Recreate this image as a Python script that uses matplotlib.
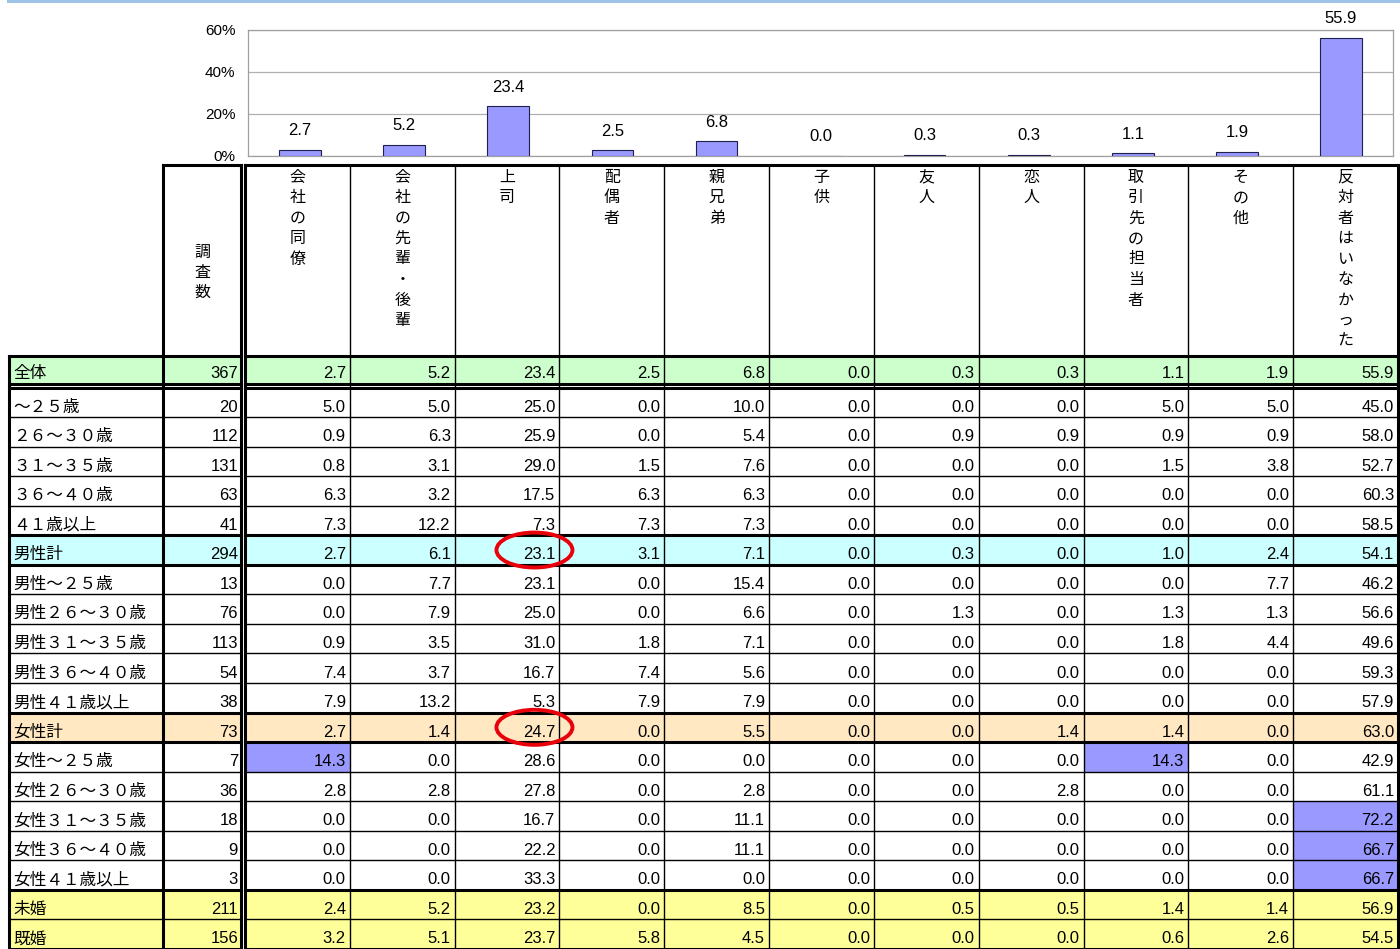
import matplotlib
matplotlib.use("Agg")
import matplotlib.pyplot as plt
from matplotlib.patches import Rectangle, Ellipse
from matplotlib.ticker import FuncFormatter

# ---------------- data ----------------
categories = ['会社の同僚', '会社の先輩・後輩', '上司', '配偶者', '親兄弟', '子供',
              '友人', '恋人', '取引先の担当者', 'その他', '反対者はいなかった']
count_header = '調査数'
row_labels = ['全体', '～２５歳', '２６～３０歳', '３１～３５歳', '３６～４０歳', '４１歳以上',
              '男性計', '男性～２５歳', '男性２６～３０歳', '男性３１～３５歳', '男性３６～４０歳', '男性４１歳以上',
              '女性計', '女性～２５歳', '女性２６～３０歳', '女性３１～３５歳', '女性３６～４０歳', '女性４１歳以上',
              '未婚', '既婚']
counts = [367, 20, 112, 131, 63, 41, 294, 13, 76, 113, 54, 38, 73, 7, 36, 18, 9, 3, 211, 156]

doryo        = [2.7, 5.0, 0.9, 0.8, 6.3, 7.3, 2.7, 0.0, 0.0, 0.9, 7.4, 7.9, 2.7, 14.3, 2.8, 0.0, 0.0, 0.0, 2.4, 3.2]
senpai_kohai = [5.2, 5.0, 6.3, 3.1, 3.2, 12.2, 6.1, 7.7, 7.9, 3.5, 3.7, 13.2, 1.4, 0.0, 2.8, 0.0, 0.0, 0.0, 5.2, 5.1]
joshi        = [23.4, 25.0, 25.9, 29.0, 17.5, 7.3, 23.1, 23.1, 25.0, 31.0, 16.7, 5.3, 24.7, 28.6, 27.8, 16.7, 22.2, 33.3, 23.2, 23.7]
haigusha     = [2.5, 0.0, 0.0, 1.5, 6.3, 7.3, 3.1, 0.0, 0.0, 1.8, 7.4, 7.9, 0.0, 0.0, 0.0, 0.0, 0.0, 0.0, 0.0, 5.8]
kyodai       = [6.8, 10.0, 5.4, 7.6, 6.3, 7.3, 7.1, 15.4, 6.6, 7.1, 5.6, 7.9, 5.5, 0.0, 2.8, 11.1, 11.1, 0.0, 8.5, 4.5]
kodomo       = [0.0] * 20
yujin        = [0.3, 0.0, 0.9, 0.0, 0.0, 0.0, 0.3, 0.0, 1.3, 0.0, 0.0, 0.0, 0.0, 0.0, 0.0, 0.0, 0.0, 0.0, 0.5, 0.0]
koibito      = [0.3, 0.0, 0.9, 0.0, 0.0, 0.0, 0.0, 0.0, 0.0, 0.0, 0.0, 0.0, 1.4, 0.0, 2.8, 0.0, 0.0, 0.0, 0.5, 0.0]
torihiki     = [1.1, 5.0, 0.9, 1.5, 0.0, 0.0, 1.0, 0.0, 1.3, 1.8, 0.0, 0.0, 1.4, 14.3, 0.0, 0.0, 0.0, 0.0, 1.4, 0.6]
sonota       = [1.9, 5.0, 0.9, 3.8, 0.0, 0.0, 2.4, 7.7, 1.3, 4.4, 0.0, 0.0, 0.0, 0.0, 0.0, 0.0, 0.0, 0.0, 1.4, 2.6]
hantai_nashi = [55.9, 45.0, 58.0, 52.7, 60.3, 58.5, 54.1, 46.2, 56.6, 49.6, 59.3, 57.9, 63.0, 42.9, 61.1, 72.2, 66.7, 66.7, 56.9, 54.5]

columns = [doryo, senpai_kohai, joshi, haigusha, kyodai, kodomo, yujin, koibito, torihiki, sonota, hantai_nashi]

# highlighted cells (row index, column index) and circled cells
highlight_cells = [(13, 0), (13, 8), (15, 10), (16, 10), (17, 10)]
circled_cells = [(6, 2), (12, 2)]

# ---------------- styling ----------------
JP = ['Noto Sans CJK JP', 'DejaVu Sans']
NUM = ['Liberation Sans', 'DejaVu Sans']
row_fill = {0: '#CCFFCC', 6: '#CCFFFF', 12: '#FFE8C2', 18: '#FFFF99', 19: '#FFFF99'}
HL = '#9999FF'
W, H = 1400, 949

fig = plt.figure(figsize=(W / 100, H / 100), dpi=100)

# ---------- table (pixel-like layout axes) ----------
ax = fig.add_axes([0, 0, 1, 1])
ax.set_xlim(0, W)
ax.set_ylim(H, 0)
ax.axis('off')

# top decorative blue band
ax.add_patch(Rectangle((7, 0), W - 7, 3.3, color='#9DC3E6', lw=0))

x_left, x_lab_r, x_cnt_r, x_dat_l, x_right = 8.5, 163.0, 241.0, 245.0, 1398.0
ncol = len(categories)
col_w = (x_right - x_dat_l) / ncol
col_edges = [x_dat_l + k * col_w for k in range(ncol + 1)]

y_head_top, y_head_bot = 165.0, 356.0
nrow = len(row_labels)
row_h = 29.55
row_tops, row_bots = [y_head_bot], [383.5]
for i in range(1, nrow):
    t = 387.5 + (i - 1) * row_h
    row_tops.append(t)
    row_bots.append(t + row_h)

# fills
for i in range(nrow):
    if i in row_fill:
        c = row_fill[i]
        ax.add_patch(Rectangle((x_left, row_tops[i]), x_cnt_r - x_left, row_bots[i] - row_tops[i], color=c, lw=0))
        ax.add_patch(Rectangle((x_dat_l, row_tops[i]), x_right - x_dat_l, row_bots[i] - row_tops[i], color=c, lw=0))
for (r, c) in highlight_cells:
    ax.add_patch(Rectangle((col_edges[c], row_tops[r]), col_w, row_bots[r] - row_tops[r], color=HL, lw=0))

THICK, THIN = 2.2, 1.0

def hline(y, lw):
    ax.plot([x_left, x_cnt_r], [y, y], color='black', lw=lw, solid_capstyle='projecting')
    ax.plot([x_dat_l, x_right], [y, y], color='black', lw=lw, solid_capstyle='projecting')

# header box
ax.plot([x_lab_r, x_cnt_r], [y_head_top, y_head_top], color='black', lw=THICK, solid_capstyle='projecting')
ax.plot([x_dat_l, x_right], [y_head_top, y_head_top], color='black', lw=THICK, solid_capstyle='projecting')
hline(y_head_bot, THICK)
hline(row_bots[0], THICK)
thick_tops = {1, 6, 7, 12, 13, 18}
for i in range(1, nrow):
    hline(row_tops[i], THICK if i in thick_tops else THIN)
hline(H - 0.5, THICK)

# vertical lines
ax.plot([x_left, x_left], [y_head_bot, H], color='black', lw=THICK, solid_capstyle='projecting')
for xv in [x_lab_r, x_cnt_r, x_dat_l, x_right]:
    ax.plot([xv, xv], [y_head_top, H], color='black', lw=THICK, solid_capstyle='projecting')
for k in range(1, ncol):
    ax.plot([col_edges[k], col_edges[k]], [y_head_top, H], color='black', lw=THIN)

# headers (vertical text, one char per line)
step = 20.5
mid = (x_lab_r + x_cnt_r) / 2
for j, ch in enumerate(count_header):
    ax.text(mid, 252 + j * 20, ch, ha='center', va='center', fontsize=11.5, family=JP)
for k, name in enumerate(categories):
    cx = (col_edges[k] + col_edges[k + 1]) / 2
    for j, ch in enumerate(name):
        ax.text(cx, 177 + j * step, ch, ha='center', va='center', fontsize=11.5, family=JP)

# body text
for i in range(nrow):
    base = row_bots[i] - 5.5
    ax.text(13, base, row_labels[i], ha='left', va='baseline', fontsize=12, family=JP)
    ax.text(x_cnt_r - 3, base, f"{counts[i]}", ha='right', va='baseline', fontsize=12, family=NUM)
    for k in range(ncol):
        ax.text(col_edges[k + 1] - 4, base, f"{columns[k][i]:.1f}", ha='right', va='baseline',
                fontsize=12, family=NUM)

# red ellipses
for (r, c) in circled_cells:
    cy = (row_tops[r] + row_bots[r]) / 2
    cx = col_edges[c + 1] - 25
    ax.add_patch(Ellipse((cx, cy), 76, 35, fill=False, edgecolor='#E8000B', lw=2.8, zorder=5))

# ---------- bar chart ----------
bl, br, bt, bb = 248.0, 1393.0, 29.5, 155.7
bax = fig.add_axes([bl / W, 1 - bb / H, (br - bl) / W, (bb - bt) / H])
totals = [col[0] for col in columns]
xs = list(range(ncol))
bax.bar(xs, totals, width=0.4, color='#9999FF', edgecolor='#202050', lw=0.8, zorder=3)
bax.set_xlim(-0.5, ncol - 0.5)
bax.set_ylim(0, 60)
bax.set_yticks([0, 20, 40, 60])
bax.yaxis.set_major_formatter(FuncFormatter(lambda v, p: f"{int(v)}%"))
bax.set_xticks([])
bax.tick_params(axis='y', length=0, pad=9, labelsize=11)
for lab in bax.get_yticklabels():
    lab.set_family(NUM)
bax.grid(axis='y', color='#B0B0B0', lw=0.9, zorder=0)
for s in bax.spines.values():
    s.set_color('#A0A0A0')
    s.set_linewidth(0.9)
for x, v in zip(xs, totals):
    bax.annotate(f"{v:.1f}", (x, v), xytext=(0, 8.5), textcoords='offset points',
                 ha='center', va='bottom', fontsize=12, family=NUM, annotation_clip=False)

fig.savefig('out.png', dpi=100)
